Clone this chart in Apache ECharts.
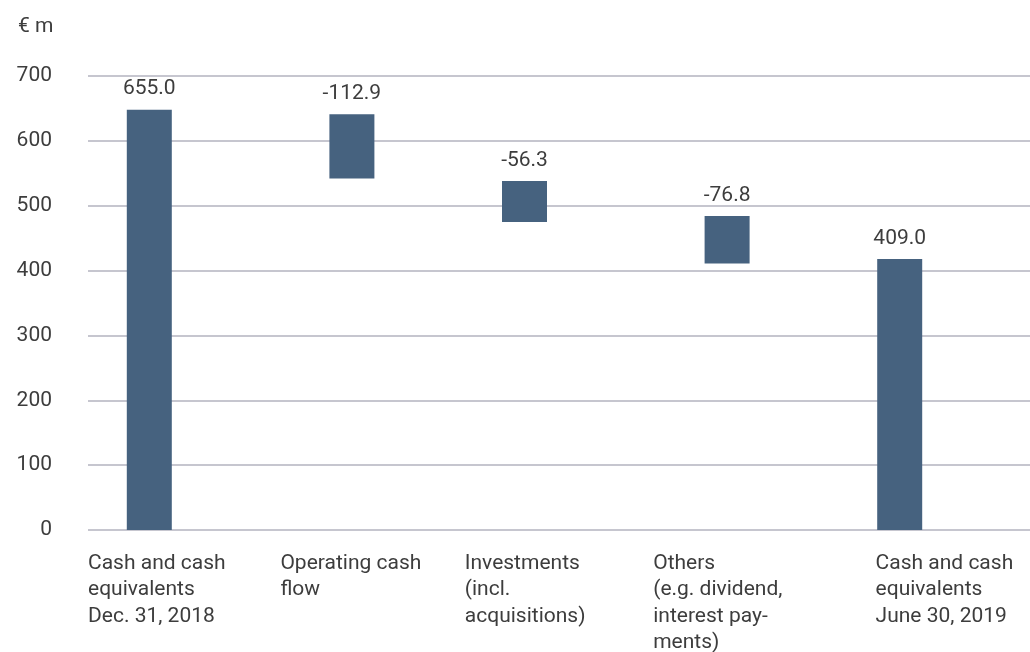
<!DOCTYPE html>
<html><head><meta charset="utf-8">
<script src="https://cdn.jsdelivr.net/npm/echarts@6/dist/echarts.min.js"></script>
<style>html,body{margin:0;padding:0;background:#fff}#c{width:1030px;height:652px}</style>
</head><body><div id="c"></div>
<script>
const categories = ['Cash and cash\nequivalents\nDec. 31, 2018', 'Operating cash\nflow', 'Investments\n(incl.\nacquisitions)', 'Others\n(e.g. dividend,\ninterest pay-\nments)', 'Cash and cash\nequivalents\nJune 30, 2019'];
const barTop = [648, 641, 538, 484, 418];
const barBottom = [0, 542, 475, 411, 0];
const valueLabels = ['655.0', '-112.9', '-56.3', '-76.8', '409.0'];
const yTicks = [0, 100, 200, 300, 400, 500, 600, 700];
const unitLabel = '€ m';

// layout: the reference spaces bars slightly unevenly; alternate bars between two
// overlapping columns so even-indexed bars sit a little left and odd ones a little right
const pick = (arr, parity) => arr.map((v, i) => (i % 2 === parity ? v : '-'));
const heights = barTop.map((t, i) => t - barBottom[i]);

const FONT = 'Roboto';
const FS = 21;
const TXT = '#3d3d3d';
const BAR = '#46627f';
const chart = echarts.init(document.getElementById('c'));
const labelPad = [0, 4, 0, 0, 34];
const valueLabel = { show: true, position: 'top', distance: 10, fontFamily: FONT, fontSize: FS, color: TXT,
  formatter: p => valueLabels[p.dataIndex] };
const barCommon = { type: 'bar', xAxisIndex: 1, yAxisIndex: 1, barWidth: 45, barGap: '-66.67%' };
chart.setOption({
  animation: false,
  title: { text: unitLabel, left: 13, top: 11, textStyle: { fontFamily: FONT, fontSize: FS, fontWeight: 'normal', color: TXT } },
  grid: [
    { left: 88, right: 0, top: 76, bottom: 122, outerBoundsMode: 'none', containLabel: false },
    { left: 63, right: 29, top: 76, bottom: 122, outerBoundsMode: 'none', containLabel: false }
  ],
  xAxis: [
    { type: 'category', gridIndex: 0, boundaryGap: false, data: categories.concat(['']),
      axisLine: { show: false }, axisTick: { show: false },
      axisLabel: { interval: 0, align: 'left', verticalAlign: 'top', margin: 20,
        formatter: (v, i) => v === '' ? '' : v.split('\n').map(s => `{p${i}|${s}}`).join('\n'),
        rich: Object.fromEntries(labelPad.map((p, i) => [`p${i}`, { fontFamily: FONT, fontSize: FS, lineHeight: 26.5, color: TXT, padding: [0, 0, 0, p] }]))
      } },
    { type: 'category', gridIndex: 1, data: categories, show: false }
  ],
  yAxis: [
    { type: 'value', gridIndex: 0, min: yTicks[0], max: yTicks[yTicks.length - 1], interval: 100,
      axisLine: { show: false }, axisTick: { show: false },
      axisLabel: { margin: 36, fontFamily: FONT, fontSize: FS, color: TXT },
      splitLine: { lineStyle: { color: '#b3b3bf', width: 1.5 } } },
    { type: 'value', gridIndex: 1, min: yTicks[0], max: yTicks[yTicks.length - 1], interval: 100, show: false, splitLine: { show: false } }
  ],
  series: [
    Object.assign({}, barCommon, { stack: 'L', silent: true, itemStyle: { color: 'transparent' }, data: pick(barBottom, 0) }),
    Object.assign({}, barCommon, { stack: 'L', itemStyle: { color: BAR }, data: pick(heights, 0), label: valueLabel }),
    Object.assign({}, barCommon, { stack: 'R', silent: true, itemStyle: { color: 'transparent' }, data: pick(barBottom, 1) }),
    Object.assign({}, barCommon, { stack: 'R', itemStyle: { color: BAR }, data: pick(heights, 1), label: valueLabel })
  ]
});
</script></body></html>
